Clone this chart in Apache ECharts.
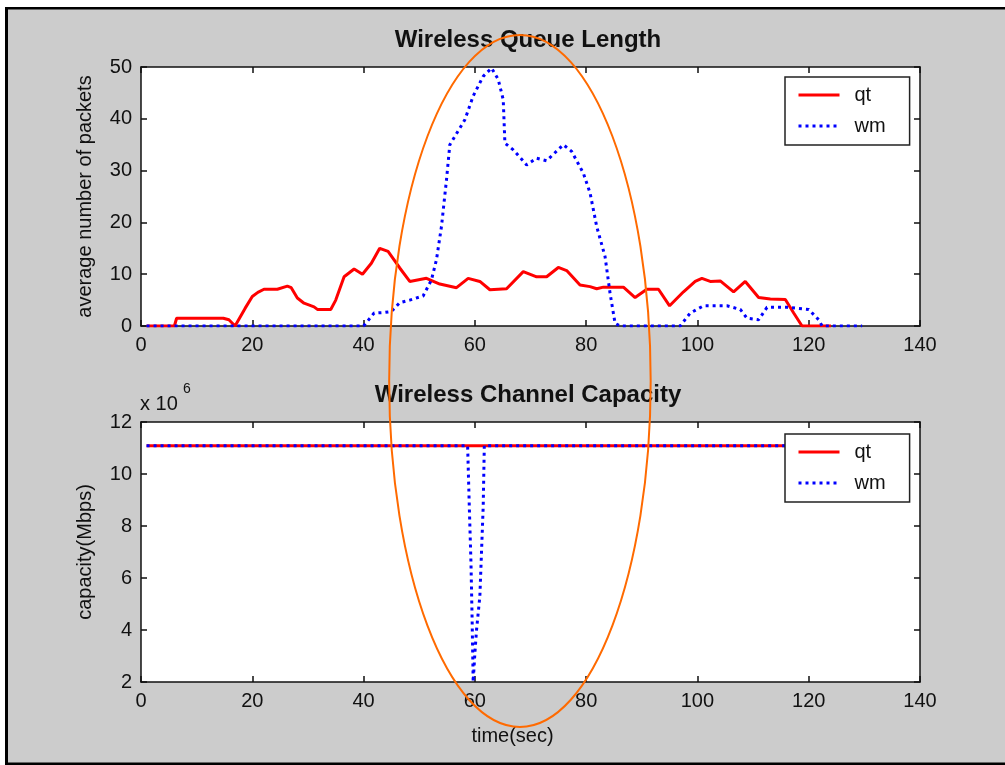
<!DOCTYPE html>
<html><head><meta charset="utf-8">
<script src="https://cdn.jsdelivr.net/npm/echarts@6/dist/echarts.min.js"></script>
<style>html,body{margin:0;padding:0;background:#fff}#c{width:1005px;height:765px}</style>
</head><body><div id="c"></div>
<script>
// ---- data ----
const qtTime = [1,6,6.4,14.8,15.8,16.9,17.2,18.7,20,21,22.1,24.5,26.3,27,28.1,29.3,31.1,31.7,34.1,35,36.5,38.3,39.8,41.4,42.9,44.4,46.5,48.3,51.3,53.7,56.7,58.8,60.9,62.7,65.7,68.7,71.1,72.9,75,76.5,78.9,80.7,81.9,83.1,86.7,88.8,90.9,93,95,97.5,99.6,100.8,102.3,104.1,106.5,108.6,111,113.1,115.8,117.3,118.8,124];
const qtQueue = [0,0,1.5,1.5,1.2,0,0,3.4,5.7,6.5,7.1,7.1,7.7,7.4,5.4,4.4,3.7,3.2,3.2,5,9.5,11,10,12.1,15,14.4,11.2,8.6,9.2,8.1,7.4,9.2,8.6,7.0,7.2,10.5,9.5,9.5,11.3,10.7,7.9,7.6,7.2,7.5,7.5,5.5,7.1,7.1,3.9,6.6,8.6,9.2,8.6,8.7,6.6,8.6,5.5,5.2,5.1,2.5,0,0];
const wmTime = [1,40,41.9,43.7,45,46.5,48.3,50.7,52.2,53.1,54,54.9,55.5,56.4,58.2,59.7,61.5,63,64.2,65.1,65.4,66.9,69.3,71.1,72.9,75.9,77.4,79.5,80.7,81.9,83.4,84.3,85.2,86.1,96.9,98.7,101.1,105.3,107.7,108.9,111,112.5,116.1,120,121.8,122.4,129.6];
const wmQueue = [0,0,2.5,2.6,2.8,4.5,5.0,5.8,8.9,12.8,19.2,28.2,35,36.6,39.8,44.4,48.2,49.8,47.6,43.7,35.3,34,31.1,32.4,31.9,35,33.7,29.5,25.7,19.2,13.4,6.3,0.5,0,0,2.5,3.9,3.9,3.2,1.5,1.2,3.6,3.6,3.2,1.2,0,0];
const qtCapTime = [1,130];
const qtCapacity = [11.09e6,11.09e6];
const wmCapTime = [1,58.7,59.0,59.3,59.5,59.7,60.0,60.3,60.9,61.5,61.7,130];
const wmCapacity = [11.09e6,11.09e6,8.75e6,6.6e6,4.5e6,2.0e6,3.1e6,4.0e6,5.3e6,8.75e6,11.09e6,11.09e6];
const seriesNames = ['qt','wm'];
const titles = ['Wireless Queue Length','Wireless Channel Capacity'];
const yNames = ['average number of packets','capacity(Mbps)'];
const xName = 'time(sec)';
const xRange = [0,140,20];
const queueRange = [0,50,10];
const capRange = [2e6,12e6,2e6];
// annotation ellipse (in top-plot data coordinates)
const ellipseCenter = [68.1,-10.6];
const ellipseRadius = [23.5,66.8];

const FONT = 'Liberation Sans, Arial, sans-serif';
const zip = (a,b) => a.map((t,i)=>[t,b[i]]);

function xAx(grid, pos, showLabel, name){
  return {type:'value', gridIndex:grid, position:pos, min:xRange[0], max:xRange[1], interval:xRange[2],
    axisLine:{show:true,onZero:false,lineStyle:{color:'#111',width:1.5}},
    axisTick:{show:true,inside:true,length:6,lineStyle:{color:'#111',width:1.5}},
    axisLabel:{show:showLabel,fontSize:20,color:'#111',fontFamily:FONT,margin:9},
    splitLine:{show:false},
    name: name||'', nameLocation:'middle', nameGap:44,
    nameTextStyle:{fontSize:20,color:'#111',fontFamily:FONT,padding:[0,36,0,0]}};
}
function yAx(grid, pos, showLabel, range, name, fmt){
  return {type:'value', gridIndex:grid, position:pos, min:range[0], max:range[1], interval:range[2],
    axisLine:{show:true,onZero:false,lineStyle:{color:'#111',width:1.5}},
    axisTick:{show:true,inside:true,length:6,lineStyle:{color:'#111',width:1.5}},
    axisLabel:{show:showLabel,fontSize:20,color:'#111',fontFamily:FONT,margin:9,formatter:fmt},
    splitLine:{show:false},
    name: name||'', nameLocation:'middle', nameGap:46, nameRotate:90,
    nameTextStyle:{fontSize:20,color:'#111',fontFamily:FONT}};
}
const redStyle = {color:'#ff0000',width:3,type:'solid'};
const blueStyle = {color:'#0000ff',width:3,type:[3,4]};
function legendAt(top){
  return {data:seriesNames, orient:'vertical', left:785, top:top, backgroundColor:'#fff',
    borderColor:'#222', borderWidth:1.5, borderRadius:0, padding:[8,24,9,12],
    itemWidth:41, itemHeight:12, itemGap:11, selectedMode:false,
    itemStyle:{opacity:0, borderWidth:0},
    lineStyle:{width:3},
    textStyle:{fontSize:20,color:'#111',fontFamily:FONT,lineHeight:20,padding:[0,0,0,10]}};
}

const chart = echarts.init(document.getElementById('c'), null, {renderer:'canvas'});
const option = {
  animation:false,
  backgroundColor:'#cccccc',
  grid:[
    {left:141, top:67, width:779, height:259, show:true, backgroundColor:'#fff', borderWidth:0},
    {left:141, top:422, width:779, height:260, show:true, backgroundColor:'#fff', borderWidth:0}
  ],
  xAxis:[ xAx(0,'bottom',true), xAx(0,'top',false), xAx(1,'bottom',true,xName), xAx(1,'top',false) ],
  yAxis:[ yAx(0,'left',true,queueRange,yNames[0]), yAx(0,'right',false,queueRange),
          yAx(1,'left',true,capRange,yNames[1], v=>String(v/1e6)), yAx(1,'right',false,capRange) ],
  legend:[ legendAt(77), legendAt(434) ],
  series:[
    {name:seriesNames[0], type:'line', xAxisIndex:0, yAxisIndex:0, data:zip(qtTime,qtQueue), showSymbol:false, symbol:'none', lineStyle:redStyle, itemStyle:{color:'#ff0000'}},
    {name:seriesNames[1], type:'line', xAxisIndex:0, yAxisIndex:0, data:zip(wmTime,wmQueue), showSymbol:false, symbol:'none', lineStyle:blueStyle, itemStyle:{color:'#0000ff'}},
    {name:seriesNames[0], type:'line', xAxisIndex:2, yAxisIndex:2, data:zip(qtCapTime,qtCapacity), showSymbol:false, symbol:'none', lineStyle:redStyle, itemStyle:{color:'#ff0000'}},
    {name:seriesNames[1], type:'line', xAxisIndex:2, yAxisIndex:2, data:zip(wmCapTime,wmCapacity), showSymbol:false, symbol:'none', lineStyle:blueStyle, itemStyle:{color:'#0000ff'}}
  ],
  graphic:[
    {type:'rect', shape:{x:0,y:0,width:5,height:765}, style:{fill:'#fff'}, silent:true},
    {type:'rect', shape:{x:0,y:0,width:1005,height:7}, style:{fill:'#fff'}, silent:true},
    {type:'rect', shape:{x:5,y:7,width:3,height:758}, style:{fill:'#000'}, silent:true},
    {type:'rect', shape:{x:5,y:7,width:1000,height:2.5}, style:{fill:'#000'}, silent:true},
    {type:'rect', shape:{x:5,y:762.5,width:1000,height:2.5}, style:{fill:'#000'}, silent:true},
    {type:'text', x:528, y:28, style:{text:titles[0], font:'bold 24px '+FONT, fill:'#111', align:'center', verticalAlign:'top'}},
    {type:'text', x:528, y:383, style:{text:titles[1], font:'bold 24px '+FONT, fill:'#111', align:'center', verticalAlign:'top'}},
    {type:'text', x:140, y:394, style:{text:'x 10', font:'20px '+FONT, fill:'#111', verticalAlign:'top'}},
    {type:'text', x:183, y:382, style:{text:'6', font:'14px '+FONT, fill:'#111', verticalAlign:'top'}}
  ]
};
chart.setOption(option);
const c = chart.convertToPixel({seriesIndex:0}, ellipseCenter);
const e = chart.convertToPixel({seriesIndex:0}, [ellipseCenter[0]+ellipseRadius[0], ellipseCenter[1]+ellipseRadius[1]]);
option.graphic.push({type:'ellipse', z:100, shape:{cx:c[0], cy:c[1], rx:Math.abs(e[0]-c[0]), ry:Math.abs(c[1]-e[1])},
  style:{fill:null, stroke:'#ff6a00', lineWidth:2}, silent:true});
chart.setOption({graphic:option.graphic});
</script></body></html>
